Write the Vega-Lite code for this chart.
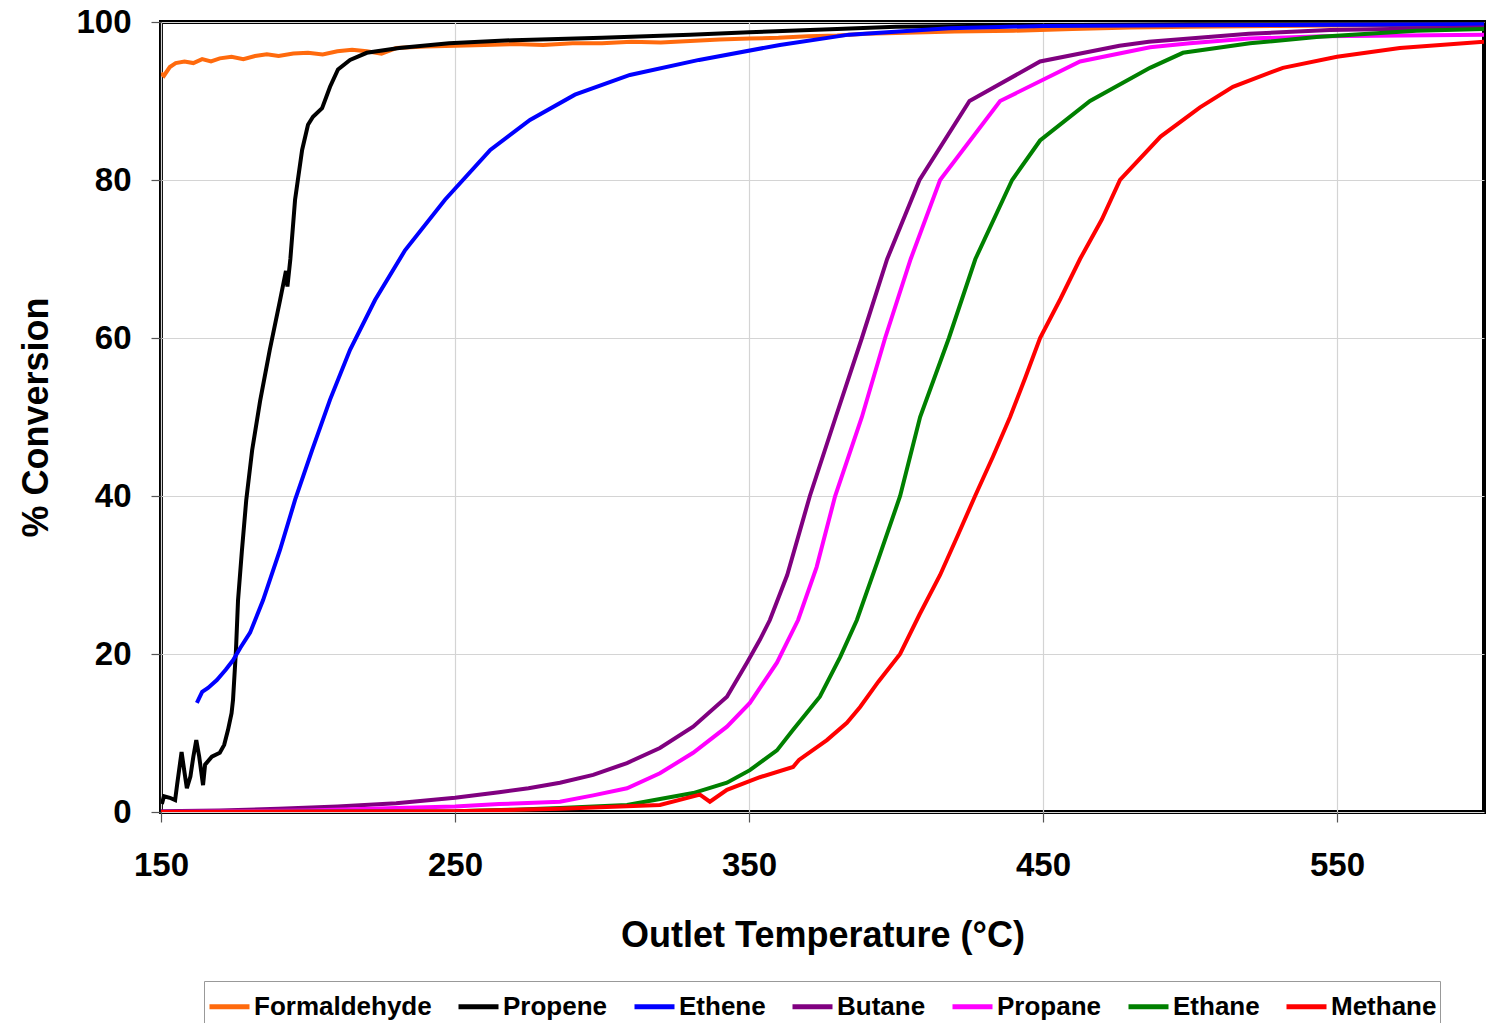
{
  "$schema": "https://vega.github.io/schema/vega-lite/v6.json",
  "width": 1323,
  "height": 790,
  "autosize": {"type": "none"},
  "padding": {"left": 161, "top": 22, "right": 9, "bottom": 211},
  "background": "white",
  "config": {
    "font": "Liberation Sans",
    "view": {"stroke": "black", "strokeWidth": 4},
    "axis": {
      "labelFont": "Liberation Sans", "labelFontWeight": "bold", "labelFontSize": 33, "labelColor": "black",
      "titleFont": "Liberation Sans", "titleFontWeight": "bold", "titleFontSize": 36, "titleColor": "black",
      "domain": false, "grid": true, "gridColor": "#d4d4d4", "gridWidth": 1.2,
      "tickColor": "#555", "tickSize": 10, "tickWidth": 1.2, "labelFlush": false
    }
  },
  "data": {
    "values": [
      {"s": "Formaldehyde", "t": 150, "c": 93.5}, {"s": "Formaldehyde", "t": 151, "c": 93.2}, {"s": "Formaldehyde", "t": 153, "c": 94.3},
      {"s": "Formaldehyde", "t": 155, "c": 94.8}, {"s": "Formaldehyde", "t": 158, "c": 95.0}, {"s": "Formaldehyde", "t": 161, "c": 94.8},
      {"s": "Formaldehyde", "t": 164, "c": 95.3}, {"s": "Formaldehyde", "t": 167, "c": 95.0}, {"s": "Formaldehyde", "t": 170, "c": 95.4},
      {"s": "Formaldehyde", "t": 174, "c": 95.6}, {"s": "Formaldehyde", "t": 178, "c": 95.3}, {"s": "Formaldehyde", "t": 182, "c": 95.7},
      {"s": "Formaldehyde", "t": 186, "c": 95.9}, {"s": "Formaldehyde", "t": 190, "c": 95.7}, {"s": "Formaldehyde", "t": 195, "c": 96.0},
      {"s": "Formaldehyde", "t": 200, "c": 96.1}, {"s": "Formaldehyde", "t": 205, "c": 95.9}, {"s": "Formaldehyde", "t": 210, "c": 96.3},
      {"s": "Formaldehyde", "t": 215, "c": 96.5}, {"s": "Formaldehyde", "t": 220, "c": 96.3}, {"s": "Formaldehyde", "t": 225, "c": 96.0},
      {"s": "Formaldehyde", "t": 230, "c": 96.7}, {"s": "Formaldehyde", "t": 240, "c": 96.9}, {"s": "Formaldehyde", "t": 250, "c": 97.0},
      {"s": "Formaldehyde", "t": 260, "c": 97.1}, {"s": "Formaldehyde", "t": 270, "c": 97.2}, {"s": "Formaldehyde", "t": 280, "c": 97.1},
      {"s": "Formaldehyde", "t": 290, "c": 97.3}, {"s": "Formaldehyde", "t": 300, "c": 97.3}, {"s": "Formaldehyde", "t": 310, "c": 97.5},
      {"s": "Formaldehyde", "t": 320, "c": 97.4}, {"s": "Formaldehyde", "t": 330, "c": 97.6}, {"s": "Formaldehyde", "t": 340, "c": 97.8},
      {"s": "Formaldehyde", "t": 350, "c": 97.9}, {"s": "Formaldehyde", "t": 360, "c": 98.0}, {"s": "Formaldehyde", "t": 370, "c": 98.2},
      {"s": "Formaldehyde", "t": 380, "c": 98.3}, {"s": "Formaldehyde", "t": 390, "c": 98.5}, {"s": "Formaldehyde", "t": 400, "c": 98.6},
      {"s": "Formaldehyde", "t": 420, "c": 98.8}, {"s": "Formaldehyde", "t": 440, "c": 98.9}, {"s": "Formaldehyde", "t": 460, "c": 99.1},
      {"s": "Formaldehyde", "t": 480, "c": 99.3}, {"s": "Formaldehyde", "t": 500, "c": 99.4}, {"s": "Formaldehyde", "t": 530, "c": 99.5},
      {"s": "Formaldehyde", "t": 560, "c": 99.6}, {"s": "Formaldehyde", "t": 600, "c": 99.6},

      {"s": "Propene", "t": 150.3, "c": 1.0}, {"s": "Propene", "t": 151, "c": 2.0}, {"s": "Propene", "t": 153, "c": 1.8},
      {"s": "Propene", "t": 154.8, "c": 1.5}, {"s": "Propene", "t": 155.5, "c": 3.5}, {"s": "Propene", "t": 157, "c": 7.6},
      {"s": "Propene", "t": 158, "c": 5.0}, {"s": "Propene", "t": 158.8, "c": 3.0}, {"s": "Propene", "t": 160, "c": 4.5},
      {"s": "Propene", "t": 161, "c": 7.0}, {"s": "Propene", "t": 162, "c": 9.1}, {"s": "Propene", "t": 163, "c": 7.0},
      {"s": "Propene", "t": 164.3, "c": 3.4}, {"s": "Propene", "t": 165, "c": 6.0}, {"s": "Propene", "t": 167.3, "c": 7.0},
      {"s": "Propene", "t": 170, "c": 7.5}, {"s": "Propene", "t": 171.5, "c": 8.5}, {"s": "Propene", "t": 172.8, "c": 10.4},
      {"s": "Propene", "t": 174, "c": 12.5}, {"s": "Propene", "t": 174.5, "c": 14.2}, {"s": "Propene", "t": 175.5, "c": 20.5},
      {"s": "Propene", "t": 176.2, "c": 26.8}, {"s": "Propene", "t": 177.5, "c": 33.0}, {"s": "Propene", "t": 179, "c": 39.5},
      {"s": "Propene", "t": 181, "c": 45.8}, {"s": "Propene", "t": 183.7, "c": 52.0}, {"s": "Propene", "t": 187, "c": 58.5},
      {"s": "Propene", "t": 190.5, "c": 64.8}, {"s": "Propene", "t": 192.5, "c": 68.5}, {"s": "Propene", "t": 193, "c": 66.5},
      {"s": "Propene", "t": 194, "c": 70.0}, {"s": "Propene", "t": 195.6, "c": 77.5}, {"s": "Propene", "t": 198, "c": 83.8},
      {"s": "Propene", "t": 200, "c": 87.0}, {"s": "Propene", "t": 201.7, "c": 88.0}, {"s": "Propene", "t": 204.8, "c": 89.1},
      {"s": "Propene", "t": 207.5, "c": 91.8}, {"s": "Propene", "t": 210.2, "c": 94.0}, {"s": "Propene", "t": 214.3, "c": 95.2},
      {"s": "Propene", "t": 220, "c": 96.1}, {"s": "Propene", "t": 231, "c": 96.7}, {"s": "Propene", "t": 248, "c": 97.3},
      {"s": "Propene", "t": 270, "c": 97.7}, {"s": "Propene", "t": 300, "c": 98.0}, {"s": "Propene", "t": 330, "c": 98.4},
      {"s": "Propene", "t": 350, "c": 98.7}, {"s": "Propene", "t": 380, "c": 99.1}, {"s": "Propene", "t": 400, "c": 99.4},
      {"s": "Propene", "t": 450, "c": 99.6}, {"s": "Propene", "t": 500, "c": 99.7}, {"s": "Propene", "t": 600, "c": 99.7},

      {"s": "Ethene", "t": 162.2, "c": 13.8}, {"s": "Ethene", "t": 164, "c": 15.2}, {"s": "Ethene", "t": 166, "c": 15.7},
      {"s": "Ethene", "t": 169, "c": 16.7}, {"s": "Ethene", "t": 172, "c": 18.0}, {"s": "Ethene", "t": 174.5, "c": 19.2},
      {"s": "Ethene", "t": 177, "c": 20.8}, {"s": "Ethene", "t": 180.3, "c": 22.7}, {"s": "Ethene", "t": 184.7, "c": 26.8},
      {"s": "Ethene", "t": 190.5, "c": 33.2}, {"s": "Ethene", "t": 195.6, "c": 39.5}, {"s": "Ethene", "t": 201.4, "c": 45.8},
      {"s": "Ethene", "t": 207.5, "c": 52.2}, {"s": "Ethene", "t": 214.3, "c": 58.5}, {"s": "Ethene", "t": 222.8, "c": 64.8},
      {"s": "Ethene", "t": 233, "c": 71.1}, {"s": "Ethene", "t": 246.6, "c": 77.5}, {"s": "Ethene", "t": 262, "c": 83.8},
      {"s": "Ethene", "t": 275.5, "c": 87.6}, {"s": "Ethene", "t": 290.8, "c": 90.8}, {"s": "Ethene", "t": 309.5, "c": 93.3},
      {"s": "Ethene", "t": 333, "c": 95.2}, {"s": "Ethene", "t": 360.5, "c": 97.1}, {"s": "Ethene", "t": 384, "c": 98.4},
      {"s": "Ethene", "t": 418, "c": 99.2}, {"s": "Ethene", "t": 450, "c": 99.5}, {"s": "Ethene", "t": 500, "c": 99.6},
      {"s": "Ethene", "t": 600, "c": 99.7},

      {"s": "Butane", "t": 150, "c": 0.1}, {"s": "Butane", "t": 170, "c": 0.2}, {"s": "Butane", "t": 190, "c": 0.4},
      {"s": "Butane", "t": 210, "c": 0.7}, {"s": "Butane", "t": 230, "c": 1.1}, {"s": "Butane", "t": 250, "c": 1.8},
      {"s": "Butane", "t": 265, "c": 2.5}, {"s": "Butane", "t": 275, "c": 3.0}, {"s": "Butane", "t": 285.7, "c": 3.7},
      {"s": "Butane", "t": 297, "c": 4.7}, {"s": "Butane", "t": 308.5, "c": 6.2}, {"s": "Butane", "t": 319.7, "c": 8.1},
      {"s": "Butane", "t": 331, "c": 10.8}, {"s": "Butane", "t": 342.5, "c": 14.6}, {"s": "Butane", "t": 349.3, "c": 18.9},
      {"s": "Butane", "t": 353.7, "c": 21.8}, {"s": "Butane", "t": 357.1, "c": 24.3}, {"s": "Butane", "t": 363, "c": 30.0},
      {"s": "Butane", "t": 370.7, "c": 40.0}, {"s": "Butane", "t": 379.5, "c": 50.0}, {"s": "Butane", "t": 388.4, "c": 60.0},
      {"s": "Butane", "t": 397, "c": 70.0}, {"s": "Butane", "t": 408, "c": 80.0}, {"s": "Butane", "t": 425, "c": 90.0},
      {"s": "Butane", "t": 449, "c": 95.0}, {"s": "Butane", "t": 476, "c": 97.0}, {"s": "Butane", "t": 486, "c": 97.5},
      {"s": "Butane", "t": 503, "c": 98.0}, {"s": "Butane", "t": 520, "c": 98.5}, {"s": "Butane", "t": 547.6, "c": 99.0},
      {"s": "Butane", "t": 600, "c": 99.3},

      {"s": "Propane", "t": 150, "c": 0.0}, {"s": "Propane", "t": 200, "c": 0.2}, {"s": "Propane", "t": 230, "c": 0.5},
      {"s": "Propane", "t": 250, "c": 0.7}, {"s": "Propane", "t": 265, "c": 1.0}, {"s": "Propane", "t": 285.7, "c": 1.3},
      {"s": "Propane", "t": 297, "c": 2.1}, {"s": "Propane", "t": 308.5, "c": 3.0}, {"s": "Propane", "t": 319.7, "c": 4.9},
      {"s": "Propane", "t": 331, "c": 7.5}, {"s": "Propane", "t": 342.5, "c": 10.8}, {"s": "Propane", "t": 350.3, "c": 13.8},
      {"s": "Propane", "t": 359.5, "c": 18.9}, {"s": "Propane", "t": 366.7, "c": 24.3}, {"s": "Propane", "t": 373, "c": 31.0},
      {"s": "Propane", "t": 379.3, "c": 40.0}, {"s": "Propane", "t": 388.4, "c": 50.0}, {"s": "Propane", "t": 396.3, "c": 60.0},
      {"s": "Propane", "t": 405, "c": 70.0}, {"s": "Propane", "t": 415, "c": 80.0}, {"s": "Propane", "t": 435.4, "c": 90.0},
      {"s": "Propane", "t": 462.6, "c": 95.0}, {"s": "Propane", "t": 486.4, "c": 96.8}, {"s": "Propane", "t": 500, "c": 97.3},
      {"s": "Propane", "t": 520, "c": 97.9}, {"s": "Propane", "t": 545, "c": 98.2}, {"s": "Propane", "t": 600, "c": 98.4},

      {"s": "Ethane", "t": 150, "c": 0.0}, {"s": "Ethane", "t": 250, "c": 0.1}, {"s": "Ethane", "t": 270, "c": 0.3},
      {"s": "Ethane", "t": 285.7, "c": 0.5}, {"s": "Ethane", "t": 308.5, "c": 0.9}, {"s": "Ethane", "t": 331, "c": 2.4},
      {"s": "Ethane", "t": 342.5, "c": 3.7}, {"s": "Ethane", "t": 350.3, "c": 5.3}, {"s": "Ethane", "t": 359.5, "c": 7.8},
      {"s": "Ethane", "t": 365, "c": 10.4}, {"s": "Ethane", "t": 374.1, "c": 14.6}, {"s": "Ethane", "t": 381, "c": 19.6},
      {"s": "Ethane", "t": 386.7, "c": 24.3}, {"s": "Ethane", "t": 394, "c": 32.0}, {"s": "Ethane", "t": 401.4, "c": 40.0},
      {"s": "Ethane", "t": 408.2, "c": 50.0}, {"s": "Ethane", "t": 418, "c": 60.0}, {"s": "Ethane", "t": 427, "c": 70.0},
      {"s": "Ethane", "t": 439.5, "c": 80.0}, {"s": "Ethane", "t": 449, "c": 85.0}, {"s": "Ethane", "t": 466, "c": 90.0},
      {"s": "Ethane", "t": 486.4, "c": 94.2}, {"s": "Ethane", "t": 497.6, "c": 96.1}, {"s": "Ethane", "t": 520.4, "c": 97.3},
      {"s": "Ethane", "t": 543, "c": 98.1}, {"s": "Ethane", "t": 577, "c": 98.9}, {"s": "Ethane", "t": 600, "c": 99.1},

      {"s": "Methane", "t": 150, "c": 0.0}, {"s": "Methane", "t": 250, "c": 0.1}, {"s": "Methane", "t": 285.7, "c": 0.4},
      {"s": "Methane", "t": 319.7, "c": 0.9}, {"s": "Methane", "t": 333.3, "c": 2.2}, {"s": "Methane", "t": 336.7, "c": 1.3},
      {"s": "Methane", "t": 342.5, "c": 2.8}, {"s": "Methane", "t": 353.7, "c": 4.4}, {"s": "Methane", "t": 365, "c": 5.7},
      {"s": "Methane", "t": 367, "c": 6.6}, {"s": "Methane", "t": 376.5, "c": 9.1}, {"s": "Methane", "t": 383.3, "c": 11.3},
      {"s": "Methane", "t": 387.8, "c": 13.3}, {"s": "Methane", "t": 394, "c": 16.5}, {"s": "Methane", "t": 401.4, "c": 20.0},
      {"s": "Methane", "t": 408, "c": 25.0}, {"s": "Methane", "t": 415, "c": 30.0}, {"s": "Methane", "t": 421, "c": 35.0},
      {"s": "Methane", "t": 426.9, "c": 40.0}, {"s": "Methane", "t": 433, "c": 45.0}, {"s": "Methane", "t": 438.8, "c": 50.0},
      {"s": "Methane", "t": 444, "c": 55.0}, {"s": "Methane", "t": 449, "c": 60.0}, {"s": "Methane", "t": 456, "c": 65.0},
      {"s": "Methane", "t": 462.6, "c": 70.0}, {"s": "Methane", "t": 470, "c": 75.0}, {"s": "Methane", "t": 476.2, "c": 80.0},
      {"s": "Methane", "t": 490, "c": 85.5}, {"s": "Methane", "t": 503.4, "c": 89.2}, {"s": "Methane", "t": 514.6, "c": 91.8},
      {"s": "Methane", "t": 531.6, "c": 94.2}, {"s": "Methane", "t": 550, "c": 95.6}, {"s": "Methane", "t": 571.4, "c": 96.7},
      {"s": "Methane", "t": 600, "c": 97.5}
    ]
  },
  "mark": {"type": "line", "strokeWidth": 4, "clip": true},
  "encoding": {
    "x": {
      "field": "t", "type": "quantitative",
      "scale": {"domain": [150, 600], "nice": false, "zero": false},
      "axis": {"values": [150, 250, 350, 450, 550], "title": "Outlet Temperature (°C)", "labelPadding": 27, "titlePadding": 36}
    },
    "y": {
      "field": "c", "type": "quantitative",
      "scale": {"domain": [0, 100], "nice": false},
      "axis": {"values": [0, 20, 40, 60, 80, 100], "title": "% Conversion", "labelPadding": 20, "titlePadding": 20}
    },
    "color": {
      "field": "s", "type": "nominal",
      "scale": {
        "domain": ["Formaldehyde", "Propene", "Ethene", "Butane", "Propane", "Ethane", "Methane"],
        "range": ["#FF6A0D", "#000000", "#0000FF", "#800080", "#FF00FF", "#008000", "#FF0000"]
      },
      "legend": {
        "title": null, "orient": "none", "legendX": 43, "legendY": 959, "direction": "horizontal", "columns": 7,
        "symbolType": "stroke", "symbolSize": 1600, "symbolStrokeWidth": 5, "labelOffset": 2, "columnPadding": 16,
        "labelFont": "Liberation Sans", "labelFontWeight": "bold", "labelFontSize": 26, "labelColor": "black",
        "padding": 3, "strokeColor": "#999", "fillColor": "white", "labelLimit": 400
      }
    },
    "order": {"field": "t", "type": "quantitative"}
  }
}
